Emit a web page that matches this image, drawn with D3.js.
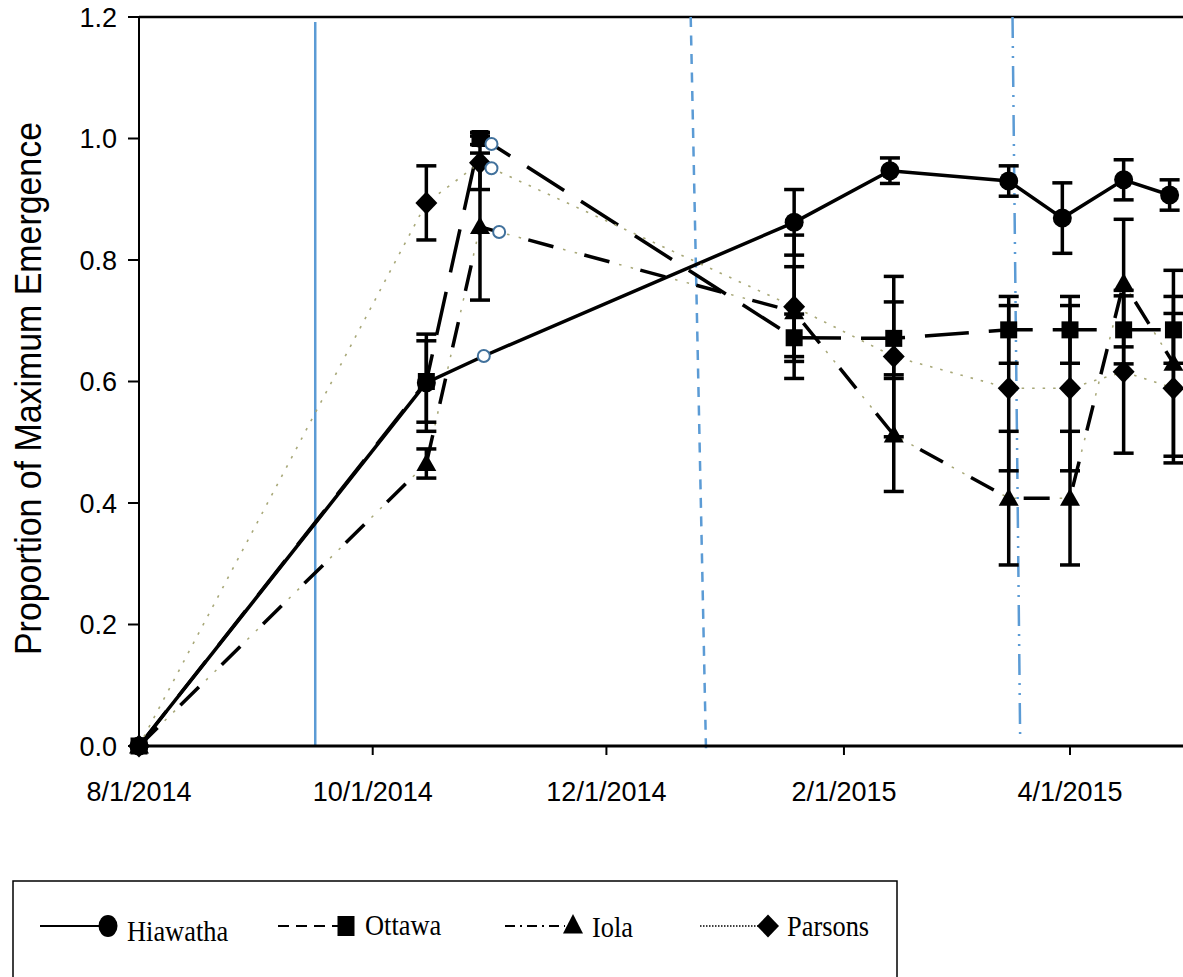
<!DOCTYPE html>
<html>
<head>
<meta charset="utf-8">
<script src="https://cdn.jsdelivr.net/npm/d3@7"></script>
<style>
  body { margin: 0; background: #fff; }
  svg { display: block; }
</style>
</head>
<body>
<svg id="chart" width="1183" height="977"></svg>
<script>
// ---- axis ticks ----
const tickDates  = ["2014-08-01", "2014-10-01", "2014-12-01", "2015-02-01", "2015-04-01"];
const tickLabels = ["8/1/2014", "10/1/2014", "12/1/2014", "2/1/2015", "4/1/2015"];
const yTicks      = [0, 0.2, 0.4, 0.6, 0.8, 1.0, 1.2];
const yTickLabels = ["0.0", "0.2", "0.4", "0.6", "0.8", "1.0", "1.2"];

// ---- sampling dates, means and standard errors per site ----
// a null error marks the extra sample without error bar
const hiawathaDates  = ["2014-08-01", "2014-10-15", "2014-10-30", "2015-01-19", "2015-02-13", "2015-03-16", "2015-03-30", "2015-04-15", "2015-04-27"];
const hiawathaValues = [0, 0.598, 0.642, 0.862, 0.947, 0.930, 0.869, 0.932, 0.907];
const hiawathaErrors = [0, 0.080, null, 0.054, 0.021, 0.025, 0.058, 0.033, 0.025];

const ottawaDates  = ["2014-08-01", "2014-10-15", "2014-10-29", "2014-11-01", "2015-01-19", "2015-02-14", "2015-03-16", "2015-04-01", "2015-04-15", "2015-04-28"];
const ottawaValues = [0, 0.600, 1.000, 0.991, 0.672, 0.671, 0.685, 0.685, 0.685, 0.685];
const ottawaErrors = [0, 0.067, 0.010, null, 0.039, 0.060, 0.055, 0.055, 0.056, 0.055];

const iolaDates  = ["2014-08-01", "2014-10-15", "2014-10-29", "2014-11-03", "2015-01-19", "2015-02-14", "2015-03-16", "2015-04-01", "2015-04-15", "2015-04-28"];
const iolaValues = [0, 0.465, 0.855, 0.846, 0.715, 0.512, 0.408, 0.408, 0.762, 0.630];
const iolaErrors = [0, 0.024, 0.121, null, 0.074, 0.093, 0.110, 0.110, 0.105, 0.153];

const parsonsDates  = ["2014-08-01", "2014-10-15", "2014-10-29", "2014-11-01", "2015-01-19", "2015-02-14", "2015-03-16", "2015-04-01", "2015-04-15", "2015-04-28"];
const parsonsValues = [0, 0.894, 0.960, 0.951, 0.723, 0.641, 0.589, 0.589, 0.616, 0.589];
const parsonsErrors = [0, 0.061, 0.044, null, 0.118, 0.132, 0.136, 0.136, 0.134, 0.123];

const seriesNames = ["Hiawatha", "Ottawa", "Iola", "Parsons"];

// ---- vertical event lines (top date, bottom date) ----
const eventTopDates    = ["2014-09-16", "2014-12-23", "2015-03-17"];
const eventBottomDates = ["2014-09-16", "2014-12-27", "2015-03-19"];

// ---------------------------------------------------------------
const parseDate = d3.utcParse("%Y-%m-%d");
const svg = d3.select("#chart");

const x = d3.scaleUtc()
  .domain([parseDate("2014-08-01"), parseDate("2015-04-01")])
  .range([139, 1070]);
const y = d3.scaleLinear().domain([0, 1.2]).range([746, 17]);

const plotRight = 1183;

function build(dates, values, errors) {
  return dates.map((d, i) => ({ date: parseDate(d), value: values[i], err: errors[i] }));
}
const series = [
  { name: seriesNames[0], shape: "circle",   style: "solid",   data: build(hiawathaDates, hiawathaValues, hiawathaErrors) },
  { name: seriesNames[1], shape: "square",   style: "dash",    data: build(ottawaDates, ottawaValues, ottawaErrors) },
  { name: seriesNames[2], shape: "triangle", style: "dashdot", data: build(iolaDates, iolaValues, iolaErrors) },
  { name: seriesNames[3], shape: "diamond",  style: "dot",     data: build(parsonsDates, parsonsValues, parsonsErrors) }
];

// ---- frame ----
svg.append("line").attr("x1", x.range()[0]).attr("x2", plotRight)
  .attr("y1", y(1.2)).attr("y2", y(1.2))
  .attr("stroke", "#000").attr("stroke-width", 2.5);

// ---- event lines ----
const eventStyles = [
  { dash: null, top: y(1.2) + 5, bottom: y(0) - 1 },
  { dash: "10,8.5", top: y(1.2), bottom: y(0) + 5 },
  { dash: "21,8,2,8,2,8", top: y(1.2), bottom: y(0) - 4 }
];
eventTopDates.forEach((d, i) => {
  const st = eventStyles[i];
  svg.append("line")
    .attr("x1", x(parseDate(d))).attr("y1", st.top)
    .attr("x2", x(parseDate(eventBottomDates[i]))).attr("y2", st.bottom)
    .attr("stroke", "#5b9bd5").attr("stroke-width", 2.5)
    .attr("stroke-dasharray", st.dash);
});

// ---- axes ----
const xAxis = svg.append("g").attr("transform", `translate(0,${y(0)})`);
xAxis.append("line").attr("x1", x.range()[0]).attr("x2", plotRight)
  .attr("stroke", "#000").attr("stroke-width", 3);
tickDates.forEach((d, i) => {
  const px = x(parseDate(d));
  xAxis.append("line").attr("x1", px).attr("x2", px).attr("y1", 0).attr("y2", 9)
    .attr("stroke", "#000").attr("stroke-width", 2);
  xAxis.append("text").attr("x", px).attr("y", 55)
    .attr("text-anchor", "middle")
    .attr("font-family", "Liberation Sans, Arial, sans-serif")
    .attr("font-size", 27).attr("fill", "#000")
    .text(tickLabels[i]);
});

const yAxis = svg.append("g").attr("transform", `translate(${x.range()[0]},0)`);
yAxis.append("line").attr("y1", y(1.2)).attr("y2", y(0))
  .attr("stroke", "#000").attr("stroke-width", 2);
yTicks.forEach((v, i) => {
  yAxis.append("line").attr("x1", -11).attr("x2", 0).attr("y1", y(v)).attr("y2", y(v))
    .attr("stroke", "#000").attr("stroke-width", 2);
  yAxis.append("text").attr("x", -22).attr("y", y(v)).attr("dy", "0.36em")
    .attr("text-anchor", "end")
    .attr("font-family", "Liberation Sans, Arial, sans-serif")
    .attr("font-size", 27).attr("fill", "#000")
    .text(yTickLabels[i]);
});

svg.append("text")
  .attr("transform", `translate(41,${(122 + 655) / 2}) rotate(-90)`)
  .attr("text-anchor", "middle")
  .attr("font-family", "Liberation Sans, Arial, sans-serif")
  .attr("font-size", 36).attr("fill", "#000")
  .attr("textLength", 533).attr("lengthAdjust", "spacingAndGlyphs")
  .text("Proportion of Maximum Emergence");

// ---- series lines ----
const line = d3.line().x(d => x(d.date)).y(d => y(d.value));
const speck = "#a8a878";

function drawLine(g, s, pathD, legend) {
  const w = legend ? 2 : 3.5;
  if (s.style === "solid") {
    g.append("path").attr("d", pathD).attr("fill", "none").attr("stroke", "#000").attr("stroke-width", w);
  } else if (s.style === "dash") {
    g.append("path").attr("d", pathD).attr("fill", "none").attr("stroke", "#000").attr("stroke-width", w)
      .attr("stroke-dasharray", legend ? "11,7" : "44,20");
  } else if (s.style === "dashdot") {
    if (legend) {
      g.append("path").attr("d", pathD).attr("fill", "none").attr("stroke", "#000").attr("stroke-width", w)
        .attr("stroke-dasharray", "10,5,2,5");
    } else {
      g.append("path").attr("d", pathD).attr("fill", "none").attr("stroke", "#000").attr("stroke-width", w)
        .attr("stroke-dasharray", "26,32");
      g.append("path").attr("d", pathD).attr("fill", "none").attr("stroke", speck).attr("stroke-width", 1.5)
        .attr("stroke-dasharray", "0,36,2.5,9.5,2.5,7.5");
    }
  } else {
    g.append("path").attr("d", pathD).attr("fill", "none")
      .attr("stroke", legend ? "#000" : speck).attr("stroke-width", legend ? 1.5 : 1.6)
      .attr("stroke-dasharray", legend ? "1.5,1.5" : "2.5,8");
  }
}

const linesG = svg.append("g");
series.forEach(s => drawLine(linesG, s, line(s.data), false));

// ---- error bars ----
const errG = svg.append("g").attr("stroke", "#000").attr("stroke-width", 3.5);
series.forEach(s => {
  s.data.filter(d => d.err).forEach(d => {
    const px = x(d.date), hi = y(d.value + d.err), lo = y(d.value - d.err);
    errG.append("line").attr("x1", px).attr("x2", px).attr("y1", hi).attr("y2", lo);
    errG.append("line").attr("x1", px - 10).attr("x2", px + 10).attr("y1", hi).attr("y2", hi);
    errG.append("line").attr("x1", px - 10).attr("x2", px + 10).attr("y1", lo).attr("y2", lo);
  });
});

// ---- markers ----
function marker(g, shape, cx, cy, tall) {
  if (shape === "circle") {
    return g.append("ellipse").attr("cx", cx).attr("cy", cy).attr("rx", 9.5).attr("ry", tall ? 11 : 9.5);
  }
  if (shape === "square") {
    return g.append("rect").attr("x", cx - 8.5).attr("y", cy - (tall ? 10 : 8.5))
      .attr("width", 17).attr("height", tall ? 20 : 17);
  }
  if (shape === "triangle") {
    return g.append("path").attr("d", `M${cx},${cy - (tall ? 12 : 10)}L${cx + 10},${cy + 7.5}L${cx - 10},${cy + 7.5}Z`);
  }
  return g.append("path").attr("d", `M${cx},${cy - 11.5}L${cx + 11},${cy}L${cx},${cy + 11.5}L${cx - 11},${cy}Z`);
}

const markG = svg.append("g").attr("fill", "#000");
series.forEach(s => {
  s.data.forEach(d => {
    if (d.err === null) return;
    marker(markG, s.shape, x(d.date), y(d.value), false);
  });
});
const hollowG = svg.append("g");
series.forEach(s => {
  s.data.filter(d => d.err === null).forEach(d => {
    hollowG.append("circle").attr("cx", x(d.date)).attr("cy", y(d.value)).attr("r", 6)
      .attr("fill", "#fff").attr("stroke", "#41719c").attr("stroke-width", 2);
  });
});

// ---- legend ----
const legend = svg.append("g");
legend.append("rect").attr("x", 13).attr("y", 881).attr("width", 884).attr("height", 140)
  .attr("fill", "#fff").attr("stroke", "#000").attr("stroke-width", 1.5);
const legendX = [40, 278, 505, 700];
const legendTextDy = [15, 9, 11, 10];
series.forEach((s, i) => {
  const g = legend.append("g");
  const x0 = legendX[i], ly = 926;
  const sampleEnd = x0 + 60;
  drawLine(g, s, `M${x0},${ly}L${sampleEnd},${ly}`, true);
  marker(g, s.shape, sampleEnd + 8, ly, true).attr("fill", "#000");
  const t = g.append("text").attr("x", sampleEnd + 27).attr("y", ly + legendTextDy[i])
    .attr("font-family", "Liberation Serif, Times New Roman, serif")
    .attr("font-size", 30).attr("fill", "#000")
    .text(s.name);
  const natural = t.node().getComputedTextLength();
  t.attr("textLength", natural * 0.88).attr("lengthAdjust", "spacingAndGlyphs");
});
</script>
</body>
</html>
